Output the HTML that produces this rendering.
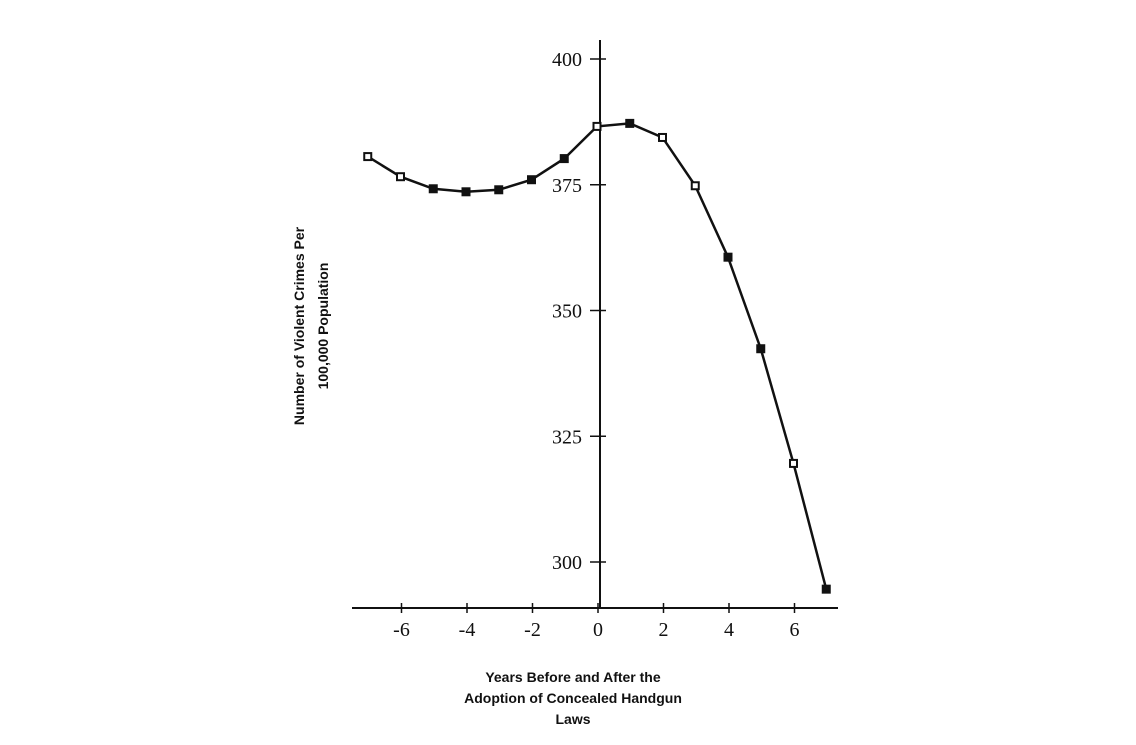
<!DOCTYPE html>
<html><head><meta charset="utf-8"><style>
body{margin:0;background:#fff}
svg text{font-family:"Liberation Serif",serif;fill:#111}
.lab{font-family:"Liberation Sans",sans-serif;font-weight:bold;font-size:14px}
</style></head><body>
<svg id="chart" width="1136" height="740" xmlns="http://www.w3.org/2000/svg">
<line x1="352" y1="608" x2="838" y2="608" stroke="#111" stroke-width="2"/>
<line x1="600" y1="40" x2="600" y2="608" stroke="#111" stroke-width="2"/>
<g id="ticks"></g>
<g id="series"></g>
<text class="lab" transform="translate(304,326) rotate(-90)" text-anchor="middle">Number of Violent Crimes Per</text>
<text class="lab" transform="translate(328,326) rotate(-90)" text-anchor="middle">100,000 Population</text>
<text class="lab" x="573" y="682" text-anchor="middle">Years Before and After the</text>
<text class="lab" x="573" y="703" text-anchor="middle">Adoption of Concealed Handgun</text>
<text class="lab" x="573" y="724" text-anchor="middle">Laws</text>
</svg>
<script>
const years=[-7,-6,-5,-4,-3,-2,-1,0,1,2,3,4,5,6,7];
const crimes=[380.6,376.6,374.2,373.6,374,376,380.2,386.6,387.2,384.4,374.8,360.6,342.4,319.6,294.6];
const filled=[0,0,1,1,1,1,1,0,1,0,0,1,1,0,1];
const xTicks=[-6,-4,-2,0,2,4,6];
const yTicks=[300,325,350,375,400];
const NS="http://www.w3.org/2000/svg";
function xs(v){return 597+v*32.75;}
function ys(v){return 562-(v-300)*5.03;}
function mk(t,a,p){const e=document.createElementNS(NS,t);for(const k in a)e.setAttribute(k,a[k]);(p).appendChild(e);return e;}
const tg=document.getElementById('ticks'),sg=document.getElementById('series');
xTicks.forEach(v=>{
 const l=mk('line',{x1:xs(v)+1,x2:xs(v)+1,y1:603,y2:613,stroke:'#111','stroke-width':1.5},tg);
 
 
 const t=mk('text',{x:xs(v)+1,y:636,'text-anchor':'middle','font-size':20},tg);t.textContent=v;
 
 
});
yTicks.forEach(v=>{
 const l=mk('line',{x1:590,x2:606,y1:ys(v),y2:ys(v),stroke:'#111','stroke-width':1.5},tg);
 
 
 const t=mk('text',{x:582,y:ys(v)+7,'text-anchor':'end','font-size':20},tg);t.textContent=v;
 
 
});
const pl=mk('polyline',{points:years.map((y,i)=>xs(y)+','+ys(crimes[i])).join(' '),fill:'none',stroke:'#111','stroke-width':2.5},sg);


years.forEach((y,i)=>{
 const r=mk('rect',{x:xs(y)-3.5,y:ys(crimes[i])-3.5,width:7,height:7,fill:filled[i]?'#111':'#fff',stroke:'#111','stroke-width':2},sg);
 
 
});
</script>
</body></html>
